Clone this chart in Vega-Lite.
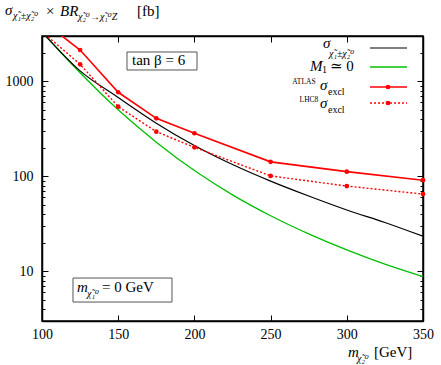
{
  "$schema": "https://vega.github.io/schema/vega-lite/v6.json",
  "width": 381,
  "height": 285,
  "autosize": "none",
  "padding": {"left": 42, "top": 36, "right": 18, "bottom": 44},
  "background": "white",
  "config": {"view": {"stroke": "black", "strokeWidth": 1.5}, "font": "'Liberation Serif', 'DejaVu Serif', serif"},
  "datasets": {
    "sigma": [
      {"m": 100, "s": 3311}, {"m": 125, "s": 1288}, {"m": 150, "s": 676}, {"m": 175, "s": 363},
      {"m": 200, "s": 211}, {"m": 225, "s": 133}, {"m": 250, "s": 89}, {"m": 275, "s": 62},
      {"m": 300, "s": 44.2}, {"m": 325, "s": 32.7}, {"m": 350, "s": 23.4}
    ],
    "m1": [
      {"m": 100, "s": 3311}, {"m": 125, "s": 1230}, {"m": 150, "s": 501}, {"m": 175, "s": 229},
      {"m": 200, "s": 115}, {"m": 225, "s": 63.8}, {"m": 250, "s": 38.5}, {"m": 275, "s": 24.8},
      {"m": 300, "s": 16.8}, {"m": 325, "s": 11.9}, {"m": 350, "s": 8.8}
    ],
    "atlas": [
      {"m": 100, "s": 4370}, {"m": 125, "s": 2136}, {"m": 150, "s": 767}, {"m": 175, "s": 408},
      {"m": 200, "s": 284}, {"m": 250, "s": 142}, {"m": 300, "s": 112}, {"m": 350, "s": 91}
    ],
    "lhc8": [
      {"m": 100, "s": 3330}, {"m": 125, "s": 1511}, {"m": 150, "s": 541}, {"m": 175, "s": 295},
      {"m": 200, "s": 202}, {"m": 250, "s": 101}, {"m": 300, "s": 79}, {"m": 350, "s": 65}
    ],
    "boxes": [
      {"m": 155.77, "m2": 201.71, "s": 1316, "s2": 2036},
      {"m": 120.34, "m2": 185.3, "s": 4.75, "s2": 8.5}
    ],
    "bigItalic": [
      {"m": 75.72, "s": 4991, "t": "σ"},
      {"m": 111.81, "s": 4871, "t": "BR"},
      {"m": 284.38, "s": 2242, "t": "σ"},
      {"m": 275.85, "s": 1284, "t": "M"},
      {"m": 282.41, "s": 810, "t": "σ"},
      {"m": 282.41, "s": 524, "t": "σ"},
      {"m": 122.97, "s": 6.06, "t": "m"},
      {"m": 300.79, "s": 1.253, "t": "m"}
    ],
    "bigUpright": [
      {"m": 102.62, "s": 4871, "t": "×"},
      {"m": 162.34, "s": 4871, "t": "[fb]"},
      {"m": 288.98, "s": 1284, "t": "≃ 0"},
      {"m": 139.37, "s": 6.06, "t": "= 0 GeV"},
      {"m": 317.85, "s": 1.253, "t": "[GeV]"},
      {"m": 159.06, "s": 1486, "t": "tan β = 6"}
    ],
    "smallItalic": [
      {"m": 80.97, "s": 4530, "t": "χ̃₁±χ̃₂⁰"},
      {"m": 123.62, "s": 4421, "t": "χ̃₂⁰→χ̃₁⁰Z"},
      {"m": 288.32, "s": 1803, "t": "χ̃₁±χ̃₂⁰"},
      {"m": 129.53, "s": 5.37, "t": "χ̃₁⁰"},
      {"m": 306.69, "s": 1.11, "t": "χ̃₂⁰"}
    ],
    "smallUpright": [
      {"m": 283.73, "s": 1223, "t": "1"},
      {"m": 287.66, "s": 718, "t": "excl"},
      {"m": 287.66, "s": 464, "t": "excl"}
    ],
    "tiny": [
      {"m": 264.2, "s": 937, "t": "ATLAS"},
      {"m": 269.0, "s": 606, "t": "LHC8"}
    ],
    "legBlack": [{"m": 315.22, "m2": 339.5, "s": 2242}],
    "legGreen": [{"m": 315.22, "m2": 339.5, "s": 1415}],
    "legRed": [{"m": 315.22, "m2": 339.5, "s": 871}],
    "legRedDot": [{"m": 315.22, "m2": 339.5, "s": 591}],
    "legPts": [{"m": 327.03, "s": 871}, {"m": 327.03, "s": 591}]
  },
  "resolve": {"axis": {"x": "independent", "y": "independent"}},
  "layer": [
    {
      "encoding": {
        "x": {
          "field": "m", "type": "quantitative",
          "scale": {"domain": [100, 350], "nice": false, "zero": false},
          "axis": {
            "values": [100, 150, 200, 250, 300, 350], "title": null, "grid": false,
            "domainColor": "black", "domainWidth": 1.5, "tickColor": "black", "tickWidth": 1,
            "tickSize": -6, "labelFont": "'Liberation Serif', 'DejaVu Serif', serif", "labelFontSize": 14,
            "labelColor": "black", "labelPadding": 12, "labelFlush": false, "labelOverlap": false
          }
        },
        "y": {
          "field": "s", "type": "quantitative",
          "scale": {"type": "log", "domain": [3, 3000], "nice": false},
          "axis": {
            "values": [3, 4, 5, 6, 7, 8, 9, 10, 20, 30, 40, 50, 60, 70, 80, 90, 100, 200, 300, 400, 500, 600, 700, 800, 900, 1000, 2000, 3000],
            "labelExpr": "datum.value == 10 || datum.value == 100 || datum.value == 1000 ? format(datum.value, 'd') : ''",
            "title": null, "grid": false,
            "domainColor": "black", "domainWidth": 1.5, "tickColor": "black", "tickWidth": 1,
            "tickSize": {"condition": {"test": "datum.value == 10 || datum.value == 100 || datum.value == 1000", "value": -6}, "value": -3},
            "labelFont": "'Liberation Serif', 'DejaVu Serif', serif", "labelFontSize": 14, "labelColor": "black",
            "labelPadding": 15, "labelOverlap": false, "labelFlush": false
          }
        }
      },
      "layer": [
        {"data": {"name": "m1"}, "mark": {"type": "line", "interpolate": "monotone", "color": "#00c000", "strokeWidth": 1.3, "clip": true}},
        {"data": {"name": "sigma"}, "mark": {"type": "line", "interpolate": "monotone", "color": "black", "strokeWidth": 1.2, "clip": true}},
        {"data": {"name": "lhc8"}, "mark": {"type": "line", "color": "#ff0000", "strokeWidth": 1.4, "strokeDash": [2, 2], "clip": true}},
        {"data": {"name": "lhc8"}, "transform": [{"filter": "datum.m > 100"}], "mark": {"type": "point", "filled": true, "color": "#ff0000", "size": 22, "opacity": 1}},
        {"data": {"name": "atlas"}, "mark": {"type": "line", "color": "#ff0000", "strokeWidth": 1.6, "clip": true}},
        {"data": {"name": "atlas"}, "transform": [{"filter": "datum.m > 100"}], "mark": {"type": "point", "filled": true, "color": "#ff0000", "size": 22, "opacity": 1}},
        {"data": {"name": "boxes"}, "mark": {"type": "rect", "fill": "white", "stroke": "#555555", "strokeWidth": 1}, "encoding": {"x2": {"field": "m2"}, "y2": {"field": "s2"}}},
        {"data": {"name": "legBlack"}, "mark": {"type": "rule", "color": "black", "strokeWidth": 1.2}, "encoding": {"x2": {"field": "m2"}}},
        {"data": {"name": "legGreen"}, "mark": {"type": "rule", "color": "#00c000", "strokeWidth": 1.3}, "encoding": {"x2": {"field": "m2"}}},
        {"data": {"name": "legRed"}, "mark": {"type": "rule", "color": "#ff0000", "strokeWidth": 1.6}, "encoding": {"x2": {"field": "m2"}}},
        {"data": {"name": "legRedDot"}, "mark": {"type": "rule", "color": "#ff0000", "strokeWidth": 1.4, "strokeDash": [2, 2]}, "encoding": {"x2": {"field": "m2"}}},
        {"data": {"name": "legPts"}, "mark": {"type": "point", "filled": true, "color": "#ff0000", "size": 22, "opacity": 1}},
        {"data": {"name": "bigItalic"}, "mark": {"type": "text", "align": "left", "baseline": "alphabetic", "font": "'Liberation Serif', 'DejaVu Serif', serif", "fontSize": 15, "fontStyle": "italic", "color": "black"}, "encoding": {"text": {"field": "t"}}},
        {"data": {"name": "bigUpright"}, "mark": {"type": "text", "align": "left", "baseline": "alphabetic", "font": "'Liberation Serif', 'DejaVu Serif', serif", "fontSize": 15, "color": "black"}, "encoding": {"text": {"field": "t"}}},
        {"data": {"name": "smallItalic"}, "mark": {"type": "text", "align": "left", "baseline": "alphabetic", "font": "'Liberation Serif', 'DejaVu Serif', serif", "fontSize": 10, "fontStyle": "italic", "color": "black"}, "encoding": {"text": {"field": "t"}}},
        {"data": {"name": "smallUpright"}, "mark": {"type": "text", "align": "left", "baseline": "alphabetic", "font": "'Liberation Serif', 'DejaVu Serif', serif", "fontSize": 10, "color": "black"}, "encoding": {"text": {"field": "t"}}},
        {"data": {"name": "tiny"}, "mark": {"type": "text", "align": "left", "baseline": "alphabetic", "font": "'Liberation Serif', 'DejaVu Serif', serif", "fontSize": 7.5, "color": "black"}, "encoding": {"text": {"field": "t"}}}
      ]
    },
    {
      "data": {"name": "sigma"},
      "mark": {"type": "point", "opacity": 0},
      "encoding": {
        "x": {
          "field": "m", "type": "quantitative",
          "scale": {"domain": [100, 350], "nice": false, "zero": false},
          "axis": {
            "orient": "top", "values": [100, 150, 200, 250, 300, 350], "title": null, "grid": false,
            "labels": false, "domainColor": "black", "domainWidth": 1.5, "tickColor": "black",
            "tickWidth": 1, "tickSize": -6
          }
        },
        "y": {
          "field": "s", "type": "quantitative",
          "scale": {"type": "log", "domain": [3, 3000], "nice": false},
          "axis": {
            "orient": "right",
            "values": [3, 4, 5, 6, 7, 8, 9, 10, 20, 30, 40, 50, 60, 70, 80, 90, 100, 200, 300, 400, 500, 600, 700, 800, 900, 1000, 2000, 3000],
            "title": null, "grid": false, "labels": false,
            "domainColor": "black", "domainWidth": 1.5, "tickColor": "black", "tickWidth": 1,
            "tickSize": {"condition": {"test": "datum.value == 10 || datum.value == 100 || datum.value == 1000", "value": -6}, "value": -3}
          }
        }
      }
    }
  ]
}
